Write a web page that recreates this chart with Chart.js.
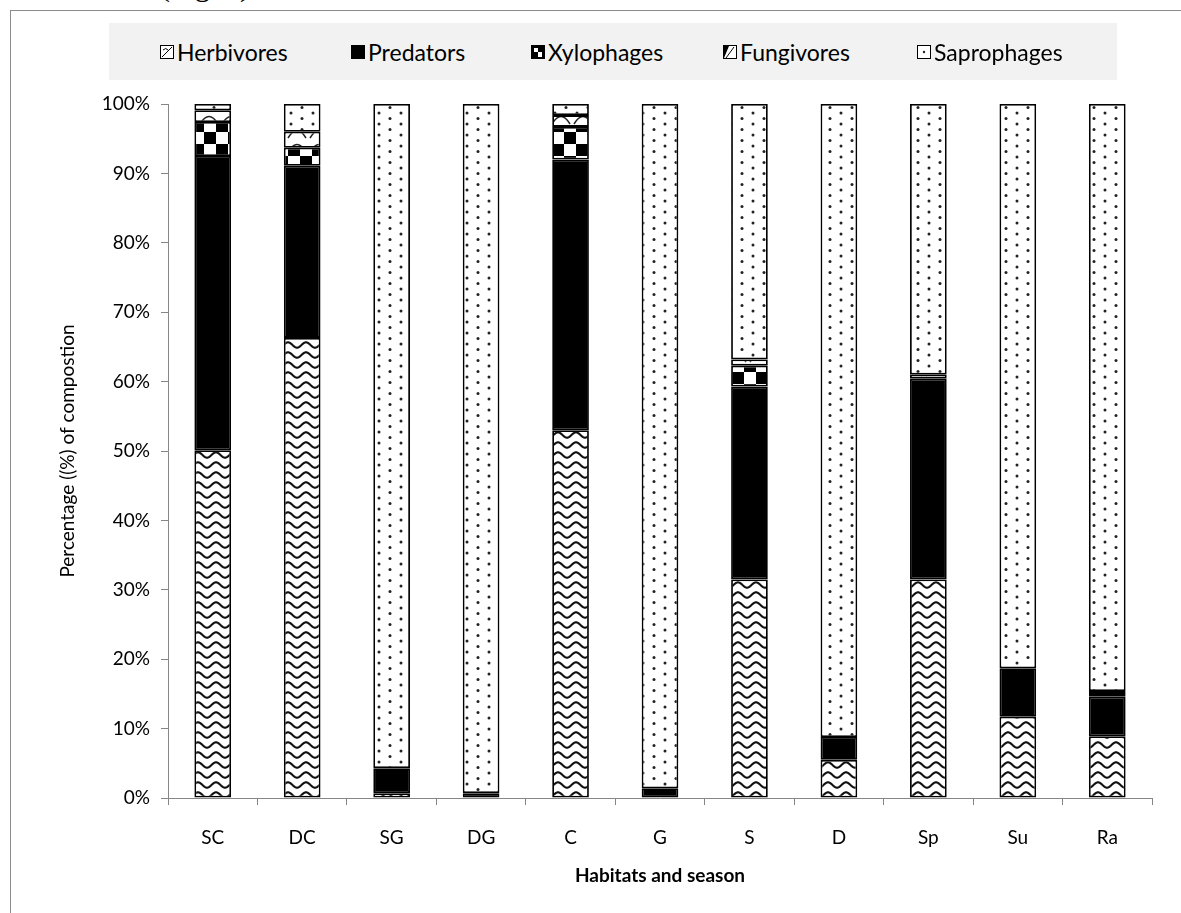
<!DOCTYPE html>
<html><head><meta charset="utf-8">
<script src="https://cdn.jsdelivr.net/npm/chart.js@4"></script>
<style>
html,body{margin:0;padding:0;background:#fff;width:1181px;height:913px;overflow:hidden;font-family:Lato,sans-serif}
#frame{position:absolute;left:10px;top:10px;width:1300px;height:1100px;border-left:1.5px solid #8c8c8c;border-top:1.5px solid #8c8c8c}
#fig{position:absolute;left:160px;top:-30px;font:30px 'Liberation Serif',serif;line-height:32px;white-space:nowrap;color:#000}
#legend{position:absolute;left:109px;top:23px;width:1008px;height:57px;background:#f2f2f2}
.item{position:absolute;top:0;height:57px;display:flex;align-items:center;font-size:23px;color:#000;white-space:nowrap}
.item canvas{width:14px;height:14px;border:1px solid #000;box-sizing:border-box;margin-right:3px}
#c{position:absolute;left:0;top:0}
</style></head>
<body>
<div id="fig">(Fig. 1)</div>
<div id="frame"></div>
<div id="legend"></div>
<canvas id="c" width="1181" height="913"></canvas>
<script>
const categories = ['SC','DC','SG','DG','C','G','S','D','Sp','Su','Ra'];
const herbivores  = [50.1, 66.3, 0.7, 0,    53.0, 0,    31.5, 5.5,  31.5, 11.7, 8.9];
const predators   = [42.4, 24.8, 3.6, 0.7,  39.0, 1.4,  27.8, 3.3,  28.9, 7.0,  5.7];
const xylophages  = [4.9,  2.6,  0,   0,    4.7,  0,    3.0,  0,    0,    0,    0.4];
const fungivores  = [1.7,  2.3,  0,   0,    1.7,  0,    0.9,  0,    0.6,  0,    0.4];
const saprophages = [0.9,  4.0,  95.7,99.3, 1.6,  98.6, 36.8, 91.2, 39.0, 81.3, 84.6];
const seriesNames = ['Herbivores','Predators','Xylophages','Fungivores','Saprophages'];
const yTicks = [0,10,20,30,40,50,60,70,80,90,100];

function tile(w,h,draw){
  const cv=document.createElement('canvas');cv.width=w;cv.height=h;
  const g=cv.getContext('2d');g.fillStyle='#fff';g.fillRect(0,0,w,h);draw(g,w,h);
  return cv;
}
function wave(){return tile(18,10,(g,w,h)=>{
  g.strokeStyle='#111';g.lineWidth=2.1;g.beginPath();
  for(let x=-1;x<=w+1;x+=0.5){const y=5-2.7*Math.cos(2*Math.PI*x/w); if(x<=-1)g.moveTo(x,y);else g.lineTo(x,y);}
  g.stroke();});}
function solid(){return tile(4,4,(g)=>{g.fillStyle='#000';g.fillRect(0,0,4,4);});}
function checker(){return tile(24,24,(g)=>{g.fillStyle='#000';g.fillRect(0,0,12,12);g.fillRect(12,12,12,12);});}
function arches(){return tile(22,14,(g)=>{g.strokeStyle='#222';g.lineWidth=1.5;g.beginPath();g.moveTo(2,12);g.quadraticCurveTo(11,-3,20,12);g.stroke();});}
function dots(){return tile(22,11,(g)=>{g.fillStyle='#222';g.beginPath();g.arc(5,3,1.5,0,Math.PI*2);g.fill();g.beginPath();g.arc(16,8.5,1.5,0,Math.PI*2);g.fill();});}

// small swatch tiles for the legend
const swatchDraw=[
  (g)=>{g.strokeStyle='#000';g.lineWidth=1;g.beginPath();g.moveTo(1,11);g.lineTo(11,1);g.stroke();g.beginPath();g.moveTo(2,4);g.quadraticCurveTo(5,1,7,4);g.stroke();},
  (g)=>{g.fillStyle='#000';g.fillRect(0,0,12,12);},
  (g)=>{g.fillStyle='#000';g.fillRect(0,0,12,12);g.fillStyle='#fff';g.fillRect(2,2,4,4);g.fillRect(6,6,4,5);},
  (g)=>{g.fillStyle='#000';g.beginPath();g.moveTo(0,12);g.lineTo(0,0);g.lineTo(5,0);g.closePath();g.fill();g.strokeStyle='#000';g.lineWidth=1;g.beginPath();g.moveTo(2,12);g.lineTo(10,1);g.stroke();},
  (g)=>{g.fillStyle='#222';g.beginPath();g.arc(6,6,1.2,0,Math.PI*2);g.fill();}
];

const ctx=document.getElementById('c').getContext('2d');
const tiles=[wave(),solid(),checker(),arches(),dots()];
const pats=tiles.map(t=>ctx.createPattern(t,'repeat'));
const values=[herbivores,predators,xylophages,fungivores,saprophages];

// HTML legend
const legLefts=[160,351,531,723,917];
const leg=document.getElementById('legend');
seriesNames.forEach((n,i)=>{
  const d=document.createElement('div');d.className='item';d.style.left=(legLefts[i]-109)+'px';
  const sw=document.createElement('canvas');sw.width=12;sw.height=12;
  const sg=sw.getContext('2d');sg.fillStyle='#fff';sg.fillRect(0,0,12,12);swatchDraw[i](sg);
  d.appendChild(sw);d.appendChild(document.createTextNode(n));leg.appendChild(d);
});

const font='Lato, sans-serif';
new Chart(ctx,{
  type:'bar',
  data:{labels:categories,datasets:seriesNames.map((n,i)=>({
    label:n,data:values[i],backgroundColor:pats[i],borderColor:'#000',borderWidth:1.8,borderSkipped:false,
    barPercentage:0.41,categoryPercentage:1
  }))},
  options:{
    responsive:false,animation:false,
    layout:{padding:{top:104,left:52,right:29,bottom:15}},
    plugins:{legend:{display:false},tooltip:{enabled:false}},
    scales:{
      x:{stacked:true,
        grid:{drawOnChartArea:false,drawTicks:true,tickLength:7,color:'#868686',offset:true},
        border:{display:true,color:'#868686',width:1},
        ticks:{color:'#000',font:{family:font,size:19},padding:21},
        title:{display:true,text:'Habitats and season',color:'#000',font:{family:font,size:19,weight:'bold'},padding:{top:0,bottom:11}},
        afterFit:s=>{s.height=100;}
      },
      y:{stacked:true,min:0,max:100,
        afterBuildTicks:s=>{s.ticks=yTicks.map(v=>({value:v}));},
        grid:{drawOnChartArea:false,drawTicks:true,tickLength:7,color:'#868686'},
        border:{display:true,color:'#868686',width:1},
        ticks:{color:'#000',font:{family:font,size:19},padding:11,callback:v=>v+'%'},
        title:{display:true,text:'Percentage ((%) of compostion',color:'#000',font:{family:font,size:19},padding:{top:4,bottom:0}},
        afterFit:s=>{s.width=116;}
      }
    }
  }
});
</script>
</body></html>
